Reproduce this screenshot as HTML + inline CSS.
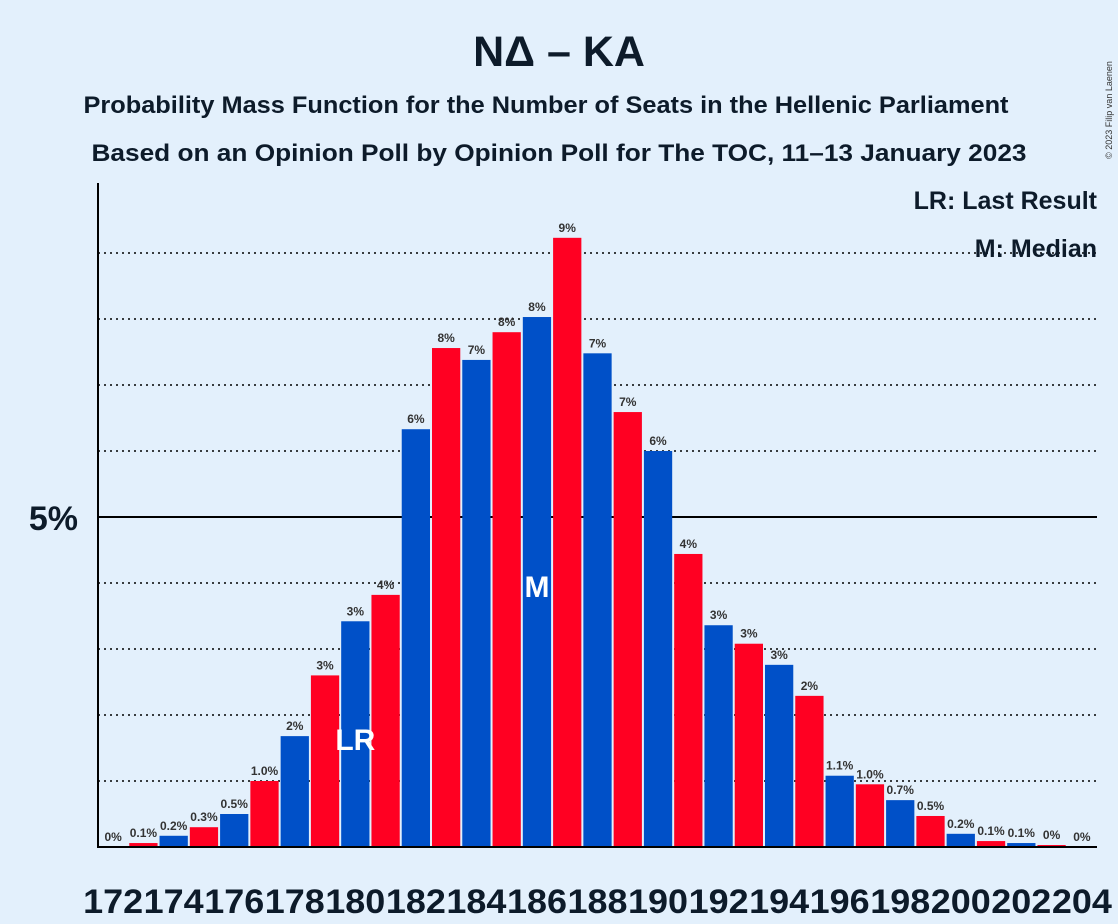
<!DOCTYPE html>
<html><head><meta charset="utf-8"><style>
body{margin:0;background:#e3f0fc;}
svg{display:block;font-family:"Liberation Sans",sans-serif;}
</style></head><body>
<svg id="chart" width="1118" height="924" viewBox="0 0 1118 924">
<rect width="1118" height="924" fill="#e3f0fc"/>
<text x="559" y="66" text-anchor="middle" font-size="43" font-weight="bold" fill="#0d1b2a">NΔ – KA</text>
<text x="546" y="113" text-anchor="middle" font-size="24" font-weight="bold" fill="#0d1b2a" textLength="925" lengthAdjust="spacingAndGlyphs">Probability Mass Function for the Number of Seats in the Hellenic Parliament</text>
<text x="559" y="161" text-anchor="middle" font-size="24" font-weight="bold" fill="#0d1b2a" textLength="935" lengthAdjust="spacingAndGlyphs">Based on an Opinion Poll by Opinion Poll for The TOC, 11–13 January 2023</text>
<text transform="translate(1112,110) rotate(-90)" text-anchor="middle" font-size="9" fill="#333">© 2023 Filip van Laenen</text>
<g id="grid"></g>
<g id="bars"></g>
<g id="labels"></g>
<line x1="98" y1="183" x2="98" y2="848" stroke="#000" stroke-width="2"/>
<line x1="97" y1="847" x2="1097" y2="847" stroke="#000" stroke-width="2"/>
<text x="78" y="530" text-anchor="end" font-size="34" font-weight="bold" fill="#0d1b2a">5%</text>
<text x="1097" y="209" text-anchor="end" font-size="25" font-weight="bold" fill="#0d1b2a">LR: Last Result</text>
<text x="1097" y="257" text-anchor="end" font-size="25" font-weight="bold" fill="#0d1b2a">M: Median</text>
</svg>
<script>
const seats=[172,173,174,175,176,177,178,179,180,181,182,183,184,185,186,187,188,189,190,191,192,193,194,195,196,197,198,199,200,201,202,203,204];
const probs=[0,0.06,0.17,0.3,0.5,1.0,1.68,2.6,3.42,3.82,6.33,7.56,7.38,7.8,8.03,9.23,7.48,6.59,6.0,4.44,3.36,3.08,2.76,2.29,1.08,0.95,0.71,0.47,0.2,0.09,0.06,0.03,0];
const valueLabels=["0%","0.1%","0.2%","0.3%","0.5%","1.0%","2%","3%","3%","4%","6%","8%","7%","8%","8%","9%","7%","7%","6%","4%","3%","3%","3%","2%","1.1%","1.0%","0.7%","0.5%","0.2%","0.1%","0.1%","0%","0%"];
const gridTicks=[1,2,3,4,5,6,7,8,9];
const lastResult=180, median=186;
const NS="http://www.w3.org/2000/svg";
const x0=98,pitch=999/33,base=847,pxPer=66;
const xs=i=>x0+i*pitch;
const ys=v=>base-v*pxPer;
function mk(t,a,p){const e=document.createElementNS(NS,t);for(const k in a)e.setAttribute(k,a[k]);p.appendChild(e);return e;}
const g=document.getElementById('grid'),b=document.getElementById('bars'),l=document.getElementById('labels');
gridTicks.forEach(t=>{const e=mk('line',{x1:98,x2:1097,y1:ys(t),y2:ys(t),stroke:'#000','stroke-width':t===5?2:1.5,'stroke-dasharray':t===5?'':'2,4'},g);

});
seats.forEach((s,i)=>{
 const h=probs[i]*pxPer;
 const r=mk('rect',{x:xs(i)+1,y:base-h,width:pitch-2,height:h,fill:s%2===0?'#0050c8':'#ff0022'},b);
 
 
 const t=mk('text',{x:xs(i)+pitch/2,y:ys(probs[i])-6,'text-anchor':'middle','font-size':12,'font-weight':'bold',fill:'#333'},l);
 t.textContent=valueLabels[i];
 
 
 if(s%2===0){const x=mk('text',{x:xs(i)+pitch/2,y:913,'text-anchor':'middle','font-size':34,'font-weight':'bold',fill:'#0d1b2a','textLength':60,'lengthAdjust':'spacingAndGlyphs'},l);
 x.textContent=s;
 
 }
 if(s===lastResult){const m=mk('text',{x:xs(i)+pitch/2,y:750,'text-anchor':'middle','font-size':30,'font-weight':'bold',fill:'#fff'},l);
 m.textContent='LR';
 
 }
 if(s===median){const m=mk('text',{x:xs(i)+pitch/2,y:597,'text-anchor':'middle','font-size':30,'font-weight':'bold',fill:'#fff'},l);
 m.textContent='M';
 
 }
});
</script>
</body></html>
